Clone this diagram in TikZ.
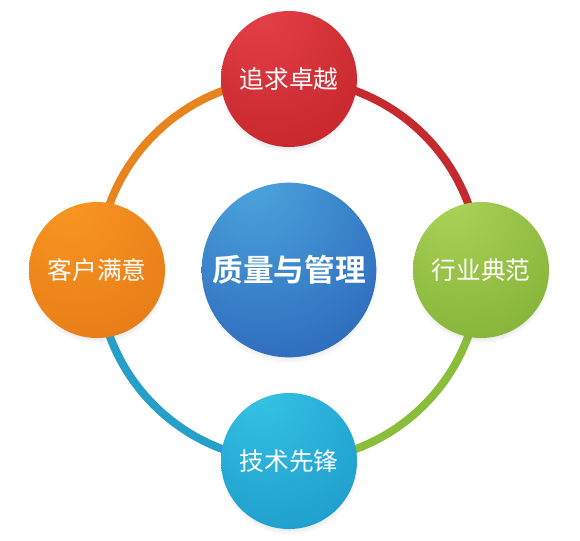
\documentclass[tikz,border=0pt]{standalone}
\usepackage{fontspec}
\newfontfamily\cjk[BoldFont={Noto Sans CJK SC Bold}]{Noto Sans CJK SC}
\usetikzlibrary{shadows}

\definecolor{redhi}{HTML}{E6414A}
\definecolor{redbase}{HTML}{C8282E}
\definecolor{reddark}{HTML}{9E1C22}
\definecolor{bluehi}{HTML}{4CA8DE}
\definecolor{bluebase}{HTML}{306EBE}
\definecolor{bluedark}{HTML}{28559E}
\definecolor{greenhi}{HTML}{ACD45A}
\definecolor{greenbase}{HTML}{88B63A}
\definecolor{greendark}{HTML}{689226}
\definecolor{orangehi}{HTML}{FA9822}
\definecolor{orangebase}{HTML}{E87E18}
\definecolor{orangedark}{HTML}{C4620E}
\definecolor{cyanhi}{HTML}{36C4E6}
\definecolor{cyanbase}{HTML}{20A0CE}
\definecolor{cyandark}{HTML}{1A7AAA}

\definecolor{ringorange}{HTML}{E8841E}
\definecolor{ringred}{HTML}{C42A2E}
\definecolor{ringgreen}{HTML}{8ABE3A}
\definecolor{ringblue}{HTML}{26A0C8}

\pgfdeclareradialshading{ballred}{\pgfpoint{-12bp}{28bp}}{color(0bp)=(redhi); color(40bp)=(redbase); color(82bp)=(reddark)}
\pgfdeclareradialshading{ballblue}{\pgfpoint{-12bp}{28bp}}{color(0bp)=(bluehi); color(40bp)=(bluebase); color(82bp)=(bluedark)}
\pgfdeclareradialshading{ballgreen}{\pgfpoint{-12bp}{28bp}}{color(0bp)=(greenhi); color(40bp)=(greenbase); color(82bp)=(greendark)}
\pgfdeclareradialshading{ballorange}{\pgfpoint{-12bp}{28bp}}{color(0bp)=(orangehi); color(40bp)=(orangebase); color(82bp)=(orangedark)}
\pgfdeclareradialshading{ballcyan}{\pgfpoint{-12bp}{28bp}}{color(0bp)=(cyanhi); color(40bp)=(cyanbase); color(82bp)=(cyandark)}

\tikzset{
  ball/.style={circle, minimum size=102pt, inner sep=0pt, text=white,
    font=\cjk\fontsize{18.5}{20}\selectfont,
    circular drop shadow={shadow xshift=0pt, shadow yshift=-3pt, shadow scale=1.02, opacity=0.3}},
  bigball/.style={ball, minimum size=131pt, font=\cjk\bfseries\fontsize{23}{26}\selectfont},
  ring/.style={line width=6pt}
}

\begin{document}
\begin{tikzpicture}[x=0.75pt,y=0.75pt,yscale=-1,xscale=1]
\useasboundingbox (0,0) rectangle (580,540);

%Center point of the ring
\coordinate (c) at (289,270);

%Ring arcs
\draw [ring, ringorange] (c) ++(180:191) arc (180:270:191);
\draw [ring, ringred]    (c) ++(270:191) arc (270:360:191);
\draw [ring, ringgreen]  (c) ++(0:191) arc (0:90:191);
\draw [ring, ringblue]   (c) ++(90:191) arc (90:180:191);

% Balls
\node [bigball, shading=ballblue] (quality) at (289,270) {质量与管理};
\node [ball, shading=ballred] (pursue) at (289,79) {追求卓越};
\node [ball, shading=ballgreen] (model) at (481,270) {行业典范};
\node [ball, shading=ballcyan] (tech) at (289,461) {技术先锋};
\node [ball, shading=ballorange] (client) at (97,270) {客户满意};

\end{tikzpicture}
\end{document}
